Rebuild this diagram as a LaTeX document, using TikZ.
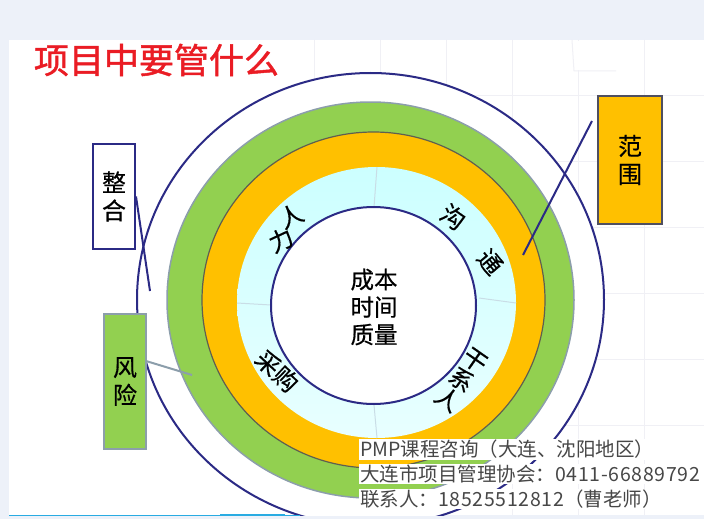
\documentclass[tikz,border=0pt]{standalone}
\usepackage{fontspec}
\setmainfont{Noto Sans CJK SC}
\newfontfamily\heavyfont[FakeBold=1.3]{Noto Sans CJK SC}
\newfontfamily\midfont[FakeBold=0.5]{Noto Sans CJK SC}
\newcommand{\digits}[1]{{\addfontfeature{LetterSpace=3.5}#1}}
\usepackage{tikz}
\usetikzlibrary{positioning}

\definecolor{framebg}{HTML}{EDF1F9}
\definecolor{gridgray}{HTML}{F0F0F5}
\definecolor{navyline}{HTML}{2B2A85}
\definecolor{ringgreen}{HTML}{92D050}
\definecolor{ringorange}{HTML}{FFC000}
\definecolor{ringedge}{HTML}{8C9EAB}
\definecolor{ringdark}{HTML}{5F5F50}
\definecolor{titlered}{HTML}{EA1C24}
\definecolor{spoke}{HTML}{C9DDE6}
\definecolor{stripblue}{HTML}{29ABE2}

\begin{document}
\begin{tikzpicture}[
          x=1pt, y=-1pt,
          every node/.style={inner sep=0pt}
        ]

          % styles
          \tikzstyle{sidebox}=[rectangle, draw, line width=2pt, align=center, minimum width=42pt,
            font=\midfont\fontsize{24}{28}\selectfont]
          \tikzstyle{ringchar}=[align=center, font=\midfont\fontsize{24}{24}\selectfont]
          \tikzstyle{contact}=[anchor=west, fill=white, inner sep=1pt, text=black!72,
            font=\fontsize{19.5}{22}\selectfont]
          \tikzstyle{pointer}=[line width=2pt, navyline]

          \useasboundingbox (0,0) rectangle (704,519);

          % frame and faint grid
          \fill[framebg] (0,0) rectangle (704,519);
          \fill[white] (9,40) rectangle (704,515);
          \foreach \gx in {314,380,...,644} \draw[gridgray, line width=1pt] (\gx,40) -- (\gx,515);
          \foreach \gy in {95,161,227,293,359,425} \draw[gridgray, line width=1pt] (314,\gy) -- (704,\gy);
          \fill[white] (578,41) rectangle (643,70);
          \fill[white] (645,41) rectangle (704,55);
          \draw[gridgray, line width=1pt] (572,40) -- (574,71) -- (616,71);

          % rings
          \begin{scope}
            \clip (9,40) rectangle (704,515);
            \draw[navyline, line width=2pt, fill=white] (370.5,299.5) ellipse[x radius=233.5, y radius=226.5];
            \draw[ringedge, line width=1.5pt, fill=ringgreen] (370.5,300) ellipse[x radius=203.5, y radius=198];
            \draw[ringdark, line width=1.2pt, fill=ringorange] (373.5,300) ellipse[x radius=171.5, y radius=168];
            \shade[top color=cyan!20, bottom color=cyan!9] (376.5,302.5) ellipse[x radius=139.5, y radius=135.5];
            \draw[spoke, line width=1pt] (377,167) -- (374,207);
            \draw[spoke, line width=1pt] (479,298) -- (516,303);
            \draw[spoke, line width=1pt] (374,405) -- (377,438);
            \draw[spoke, line width=1pt] (237,303) -- (271,305);
            \draw[navyline, line width=2pt, fill=white] (373.5,305.5) ellipse[x radius=102.5, y radius=98.5];
          \end{scope}

          % strip along the bottom
          \fill[framebg] (0,515.5) rectangle (704,519);
          \draw[stripblue, line width=1pt] (9,515.5) -- (300,515.5);
          \fill[stripblue] (220,513.5) rectangle (285,516);

          % title and centre
          \node[text=titlered, font=\heavyfont\fontsize{35}{36}\selectfont] (title) at (156.5,60) {项目中要管什么};
          \node[align=center, font=\midfont\fontsize{23.5}{27.5}\selectfont] (core) at (374,307) {成本\\时间\\质量};

          % ring labels
          \node[ringchar, rotate=25] (ren) at (291,216) {人};
          \node[ringchar, rotate=25] (li) at (281,240) {力};
          \node[ringchar, rotate=-35] (gou) at (453,217) {沟};
          \node[ringchar, rotate=-50] (tong) at (490,262) {通};
          \node[ringchar, rotate=-35] (gan) at (461,380) {干\\系\\人};
          \node[ringchar, rotate=-43] (cai) at (277,371) {采购};

          % side boxes
          \node[sidebox, navyline, fill=white, text=black, minimum height=105pt] (zhenghe) at (114,196.5) {整\\合};
          \node[sidebox, draw=ringdark!70!navyline, fill=ringorange, text=black, minimum width=64pt, minimum height=128pt] (fanwei) at (630,160) {范\\围};
          \node[sidebox, draw=ringedge, fill=ringgreen, text=black, minimum height=135pt] (fengxian) at (125,381.5) {风\\险};

          % pointers
          \coordinate (zhenghetip) at (150,291);
          \coordinate (fanweifrom) at (592,121);
          \coordinate (fanweitip) at (523,255);
          \coordinate (fengxianfrom) at (146,361);
          \coordinate (fengxiantip) at (192,375);
          \draw[pointer] (zhenghe.east) -- (zhenghetip);
          \draw[pointer] (fanweifrom) -- (fanweitip);
          \draw[pointer, ringedge] (fengxianfrom) -- (fengxiantip);

          % contact lines
          \node[contact] (line1) at (359,449.5) {PMP课程咨询（大连、沈阳地区）};
          \node[contact] (line2) at ([yshift=-24.5pt]line1.west) {大连市项目管理协会：\digits{0411-66889792}};
          \node[contact] (line3) at ([yshift=-25pt]line2.west) {联系人：\digits{18525512812}（曹老师）};

        \end{tikzpicture}
\end{document}
